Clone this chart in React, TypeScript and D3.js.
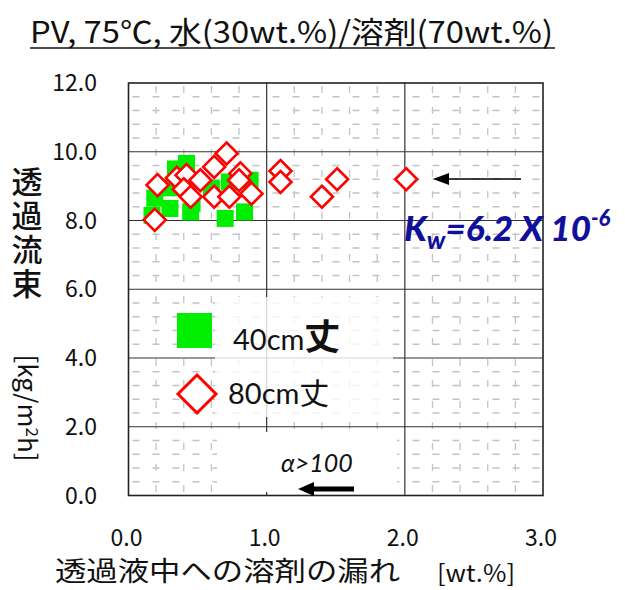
import React from "react";
import * as d3 from "d3";

// ---- data ----
const xTickValues = [0, 1, 2, 3];
const yTickValues = [0, 2, 4, 6, 8, 10, 12];

// 40cm丈 (green squares): solvent leak [wt.%], flux [kg/m2h]
const green40cmLeak = [0.17, 0.19, 0.30, 0.31, 0.34, 0.42, 0.46, 0.45, 0.60, 0.73, 0.70, 0.84, 0.88];
const green40cmFlux = [8.15, 8.65, 8.35, 8.95, 9.5, 9.66, 8.5, 8.25, 8.93, 9.12, 8.06, 8.25, 9.17];

// 80cm丈 (red diamonds)
const red80cmLeak = [0.19, 0.21, 0.35, 0.42, 0.40, 0.45, 0.52, 0.62, 0.71, 0.62, 0.73, 0.81, 0.80, 0.89, 1.10, 1.10, 1.40, 1.51, 2.01];
const red80cmFlux = [8.02, 9.03, 9.24, 9.32, 8.91, 8.69, 9.17, 9.56, 9.95, 8.69, 8.69, 9.37, 9.17, 8.78, 9.44, 9.12, 8.69, 9.20, 9.20];

const titleText = "PV, 75℃, 水(30wt.%)/溶剤(70wt.%)";
const xTitle = "透過液中への溶剤の漏れ";
const xUnit = "[wt.%]";
const yTitle = "透過流束";
const legendLabels = ["40cm", "80cm"];

const CJK = "'Noto Sans CJK JP', 'Noto Sans', sans-serif";
const CAL = "Lato, 'Open Sans', sans-serif";

export default function App() {
  const x = d3.scaleLinear().domain([0, 3]).range([128.5, 543]);
  const y = d3.scaleLinear().domain([0, 12]).range([495.5, 83]);
  const [x0, x1] = x.range();
  const [y0, y1] = [y(12), y(0)];

  const minorX = d3.range(1, 15).filter((i) => i % 5 !== 0).map((i) => i * 0.2);
  const minorY = d3.range(1, 30).filter((i) => i % 5 !== 0).map((i) => i * 0.4);

  const greenPts = green40cmLeak.map((v, i) => [v, green40cmFlux[i]]);
  const redPts = red80cmLeak.map((v, i) => [v, red80cmFlux[i]]);

  const sq = 17;
  const dh = 11;
  const diamond = (cx: number, cy: number, h: number) =>
    `M${cx},${cy - h}L${cx + h},${cy}L${cx},${cy + h}L${cx - h},${cy}Z`;

  return (
    <svg width={625} height={590} style={{ position: "absolute", left: 0, top: 0, background: "#fff" }}>
      <rect x={0} y={0} width={625} height={590} fill="#fff" />
      {/* title */}
      <text x={30} y={43} fontFamily={CJK} fontSize={30} fill="#111" textLength={523} lengthAdjust="spacingAndGlyphs">
        {titleText}
      </text>
      <line x1={30} x2={555} y1={48} y2={48} stroke="#111" strokeWidth={1.6} />

      {/* minor dashed grid */}
      <g stroke="#c4c4c4" strokeWidth={1.3}>
        {minorX.map((v) => (
          <line key={"mx" + v} x1={x(v)} x2={x(v)} y1={y0} y2={y1} strokeDasharray="7 14" strokeDashoffset={-3} />
        ))}
        {minorY.map((v) => (
          <line key={"my" + v} x1={x0} x2={x1} y1={y(v)} y2={y(v)} strokeDasharray="7 13" strokeDashoffset={-4} />
        ))}
      </g>
      {/* major grid */}
      <g stroke="#333" strokeWidth={1.2}>
        {xTickValues.slice(1, -1).map((v) => (
          <line key={"gx" + v} x1={x(v)} x2={x(v)} y1={y0} y2={y1} />
        ))}
        {yTickValues.slice(1, -1).map((v) => (
          <line key={"gy" + v} x1={x0} x2={x1} y1={y(v)} y2={y(v)} />
        ))}
      </g>

      {/* legend / annotation backgrounds */}
      <rect x={215} y={297} width={178} height={120} fill="#fff" opacity={0.8} />
      <rect x={217} y={432} width={180} height={60} fill="#fff" />

      {/* data */}
      <g fill="#00ee00">
        {greenPts.map(([a, b], i) => (
          <rect key={"g" + i} x={x(a) - sq / 2} y={y(b) - sq / 2} width={sq} height={sq} />
        ))}
      </g>
      <g fill="#fff" stroke="#ff0000" strokeWidth={2.6}>
        {redPts.map(([a, b], i) => (
          <path key={"r" + i} d={diamond(x(a), y(b), dh)} />
        ))}
      </g>

      {/* plot frame */}
      <rect x={x0} y={y0} width={x1 - x0} height={y1 - y0} fill="none" stroke="#222" strokeWidth={1.6} />

      {/* y ticks */}
      {yTickValues.map((v) => (
        <text key={"yt" + v} x={97} y={y(v) + 8} textAnchor="end" fontFamily={CJK} fontSize={23} fill="#111">
          {v.toFixed(1)}
        </text>
      ))}
      {/* x ticks */}
      {xTickValues.map((v) => (
        <text key={"xt" + v} x={x(v) - 2} y={546} textAnchor="middle" fontFamily={CJK} fontSize={23} fill="#111">
          {v.toFixed(1)}
        </text>
      ))}

      {/* x title */}
      <text x={55} y={581} fontFamily={CJK} fontSize={27} fill="#111" textLength={345} lengthAdjust="spacingAndGlyphs">
        {xTitle}
      </text>
      <text x={437} y={582} fontFamily={CJK} fontSize={24} fill="#111" textLength={78} lengthAdjust="spacingAndGlyphs">
        {xUnit}
      </text>

      {/* y title */}
      <text
        x={27}
        y={166}
        style={{ writingMode: "vertical-rl" }}
        fontFamily={CJK}
        fontSize={31}
        fontWeight={500}
        letterSpacing={3}
        fill="#111"
      >
        {yTitle}
      </text>
      <text transform="translate(18,408) rotate(90)" textAnchor="middle" fontFamily={CJK} fontSize={26} fill="#111">
        [kg/m<tspan dy={-8} fontSize={17}>2</tspan>
        <tspan dy={8}>h]</tspan>
      </text>

      {/* legend */}
      <rect x={177} y={313} width={35} height={35} fill="#00ee00" />
      <text x={233} y={350} fontFamily={CAL} fontSize={29} fill="#111">
        {legendLabels[0]}
        <tspan fontFamily={CJK} fontSize={36} fontWeight={700}>丈</tspan>
      </text>
      <path d={diamond(197, 394, 19)} fill="#fff" stroke="#ff0000" strokeWidth={3} />
      <text x={228} y={404} fontFamily={CAL} fontSize={29} fill="#111">
        {legendLabels[1]}
        <tspan fontFamily={CJK} fontSize={30}>丈</tspan>
      </text>

      {/* alpha annotation */}
      <text x={281} y={472} fontFamily={CAL} fontStyle="italic" fontSize={25} fill="#111">
        α&gt;100
      </text>
      <line x1={354} x2={310} y1={489} y2={489} stroke="#000" strokeWidth={5} />
      <path d="M298,489L314,482L314,496Z" fill="#000" />

      {/* Kw arrow */}
      <line x1={521} x2={445} y1={179} y2={179} stroke="#000" strokeWidth={1.6} />
      <path d="M433,179L449,173L449,185Z" fill="#000" />

      {/* Kw text */}
      <text x={404} y={241} fontFamily={CAL} fontStyle="italic" fontWeight={900} fontSize={35} fill="#10109a">
        K<tspan fontSize={25} dy={8}>w</tspan>
        <tspan dy={-8}>=6.2 X 10</tspan>
        <tspan fontSize={22} dy={-15}>-6</tspan>
      </text>
    </svg>
  );
}
